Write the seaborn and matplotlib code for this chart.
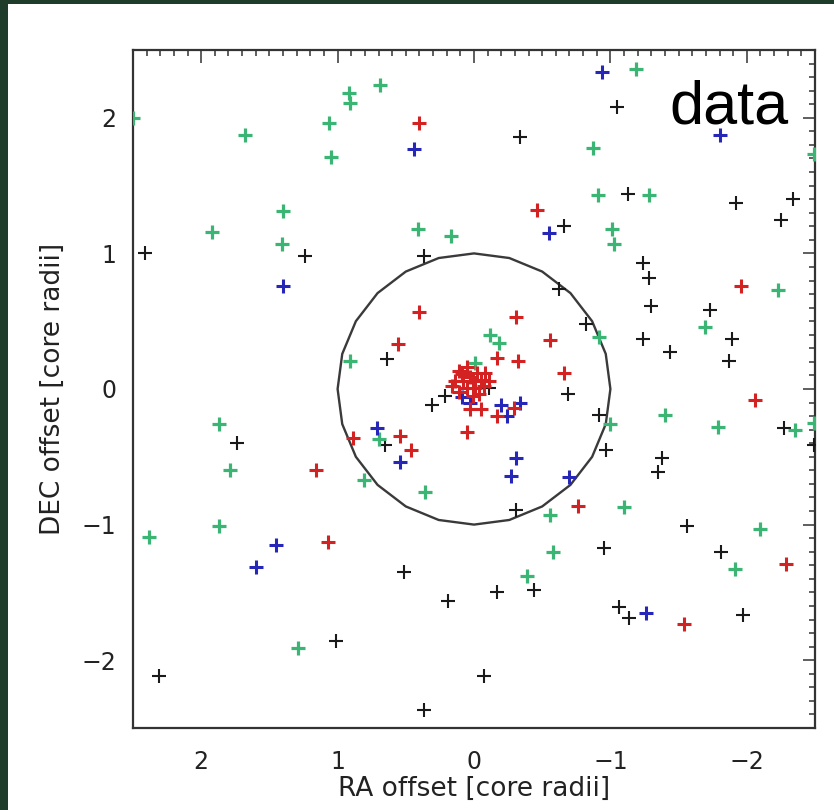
import matplotlib
matplotlib.use("Agg")
import matplotlib.pyplot as plt
import seaborn as sns
import pandas as pd
from matplotlib.patches import CirclePolygon, Rectangle
from matplotlib.ticker import MultipleLocator

# ---- data (RA offset, DEC offset in core radii) ----
green_x = [1.68, 1.06, 0.92, 0.91, 0.69, 1.05, 1.40, 1.92, 1.41, 0.41,
           0.17, 0.91, 2.50, -1.19, -2.49, -0.87, -0.91, -1.28, -1.01, -1.03,
           -2.23, -1.69, -0.92, -0.12, -0.18, -0.01, 1.87, 1.79, 0.81, 0.70,
           0.36, 1.87, 2.38, 1.29, -1.00, -1.40, -1.79, -2.35, -2.49, -0.56,
           -1.10, -2.10, -0.58, -1.91, -0.39]
green_y = [1.87, 1.96, 2.18, 2.11, 2.24, 1.71, 1.31, 1.16, 1.07, 1.18,
           1.13, 0.21, 2.00, 2.36, 1.73, 1.78, 1.43, 1.43, 1.18, 1.07,
           0.73, 0.46, 0.38, 0.40, 0.34, 0.19, -0.26, -0.60, -0.67, -0.37,
           -0.76, -1.01, -1.09, -1.91, -0.26, -0.19, -0.28, -0.30, -0.25, -0.93,
           -0.87, -1.03, -1.20, -1.33, -1.38]

red_x = [0.40, 0.40, 0.56, -0.46, -1.96, -0.31, -0.56, -0.17, -0.32, -0.66,
         0.89, 0.54, 0.46, 0.05, 1.16, 1.07, -2.06, -0.76, -2.29, -1.54,
         -0.29, -0.17, 0.03, -0.05, 0.11, 0.05, -0.02, -0.08, 0.14, 0.08,
         0.01, -0.05, -0.11, 0.16, 0.05, -0.01, -0.07, 0.11, -0.04, 0.01,
         0.09, 0.03]
red_y = [1.96, 0.57, 0.33, 1.32, 0.76, 0.53, 0.36, 0.23, 0.21, 0.12,
         -0.36, -0.35, -0.45, -0.32, -0.60, -1.13, -0.08, -0.86, -1.29, -1.73,
         -0.14, -0.20, -0.15, -0.15, 0.13, 0.16, 0.12, 0.12, 0.06, 0.06,
         0.06, 0.07, 0.06, 0.02, 0.01, 0.01, 0.02, -0.02, -0.04, -0.05,
         0.11, 0.09]

blue_x = [0.44, 1.40, -0.94, -1.80, -0.55, 0.71, 0.54, 1.45, 1.60, -0.31,
          -0.27, -0.70, -1.26, 0.09, 0.03, -0.20, -0.24, -0.34]
blue_y = [1.77, 0.76, 2.34, 1.87, 1.15, -0.29, -0.54, -1.15, -1.31, -0.51,
          -0.64, -0.65, -1.65, -0.06, -0.10, -0.12, -0.20, -0.10]

black_x = [2.41, 1.24, 0.37, 0.64, -1.05, -0.34, -1.13, -1.92, -2.34, -2.25,
           -0.66, -1.24, -1.28, -0.62, -1.30, -1.73, -1.89, -1.87, -1.24, -1.44,
           -0.82, 1.74, 0.65, 0.31, 0.21, -0.11, 0.51, 0.19, 1.01, 2.31,
           0.37, -0.07, -0.69, -0.92, -2.27, -2.49, -0.97, -1.38, -1.35, -0.31,
           -1.56, -0.95, -1.81, -0.44, -1.06, -1.14, -1.97, -0.17]
black_y = [1.00, 0.98, 0.98, 0.22, 2.08, 1.86, 1.44, 1.37, 1.40, 1.25,
           1.20, 0.93, 0.82, 0.74, 0.61, 0.58, 0.37, 0.21, 0.37, 0.27,
           0.48, -0.40, -0.41, -0.12, -0.05, 0.01, -1.35, -1.56, -1.86, -2.12,
           -2.37, -2.12, -0.04, -0.19, -0.29, -0.41, -0.45, -0.51, -0.61, -0.89,
           -1.01, -1.17, -1.20, -1.48, -1.61, -1.69, -1.67, -1.50]

core_radius = 1.0
x_ticks = [2, 1, 0, -1, -2]
y_ticks = [-2, -1, 0, 1, 2]
x_label = "RA offset [core radii]"
y_label = "DEC offset [core radii]"
panel_text = "data"

groups = [
    ("black", black_x, black_y, "#1a1a1a", 1.5, 95),
    ("green", green_x, green_y, "#3ab574", 2.3, 115),
    ("blue", blue_x, blue_y, "#2626b8", 2.2, 110),
    ("red", red_x, red_y, "#d42222", 2.2, 110),
]

sns.set_style("white")
plt.rcParams["font.family"] = ["DejaVu Sans"]

fig = plt.figure(figsize=(8.34, 8.10), dpi=100)
fig.patch.set_facecolor("white")
# dark frame strips from the original slide
fig.patches.append(Rectangle((0, 0), 8 / 834, 1, transform=fig.transFigure,
                             facecolor="#1f3c2a", edgecolor="none", zorder=0))
fig.patches.append(Rectangle((0, 1 - 4 / 810), 1, 4 / 810, transform=fig.transFigure,
                             facecolor="#1f3c2a", edgecolor="none", zorder=0))

ax = fig.add_axes([133 / 834, 1 - 728 / 810, 682 / 834, 678 / 810])

for name, xs, ys, col, lw, sz in groups:
    df = pd.DataFrame({"ra": xs, "dec": ys})
    sns.scatterplot(data=df, x="ra", y="dec", ax=ax, marker="+", color=col,
                    s=sz, linewidth=lw, legend=False, zorder=3)

ax.add_patch(CirclePolygon((0, 0), core_radius, resolution=24, fill=False,
                           edgecolor="#3a3a3a", linewidth=1.7, zorder=2))

ax.set_xlim(2.5, -2.5)
ax.set_ylim(-2.5, 2.5)
ax.set_xticks(x_ticks)
ax.set_yticks(y_ticks)
ax.xaxis.set_minor_locator(MultipleLocator(0.1))
ax.yaxis.set_minor_locator(MultipleLocator(0.1))
ax.tick_params(which="both", direction="in", top=True, right=True,
               color="#333333", width=1.1)
ax.tick_params(which="major", length=9)
ax.tick_params(which="minor", length=4.5)
ax.tick_params(axis="x", which="major", pad=16, labelsize=17, labelcolor="#222222")
ax.tick_params(axis="y", which="major", pad=12, labelsize=17, labelcolor="#222222")

ax.set_xlabel(x_label, fontsize=19, color="#222222", labelpad=1)
ax.set_ylabel(y_label, fontsize=19, color="#222222", labelpad=11)

for sp in ax.spines.values():
    sp.set_color("#333333")
    sp.set_linewidth(1.6)

ax.text(0.786, 0.892, panel_text, transform=ax.transAxes, ha="left",
        va="baseline", fontsize=44, family=["Liberation Sans", "DejaVu Sans"],
        color="black", zorder=5)

fig.savefig("out.png", dpi=100, facecolor="white")
